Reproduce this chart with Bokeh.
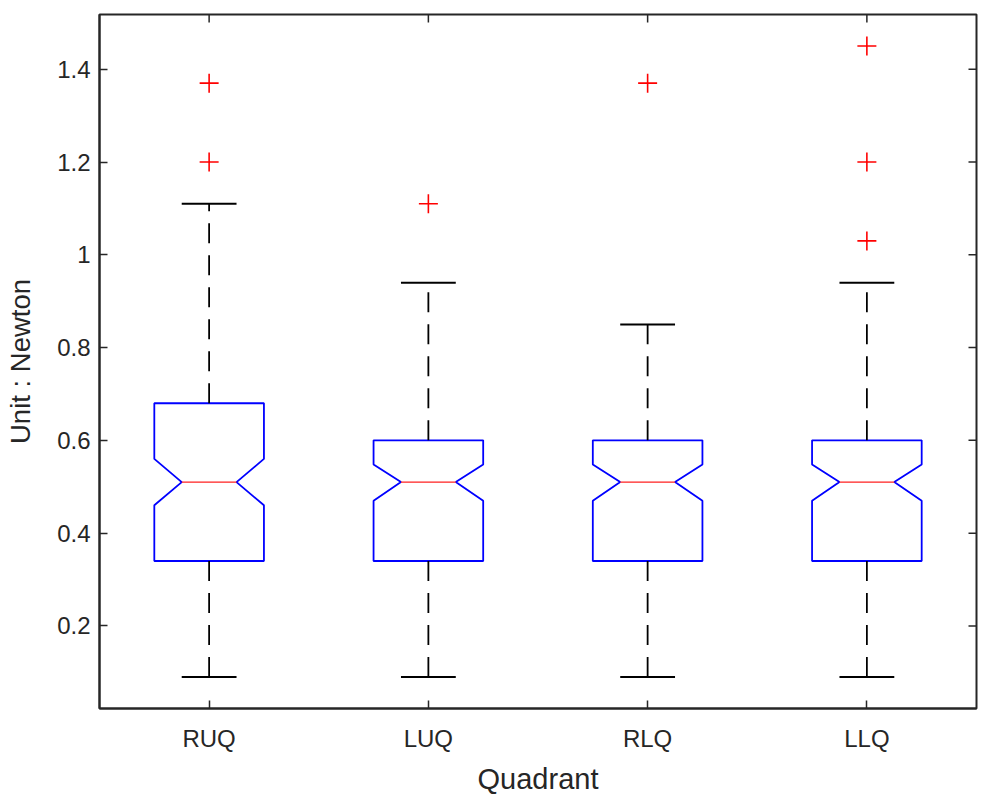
from bokeh.plotting import figure
from bokeh.models import Range1d, FixedTicker
from bokeh.embed import file_html
from bokeh.resources import INLINE

# ---- data ----
categories = ["RUQ", "LUQ", "RLQ", "LLQ"]
positions = [1, 2, 3, 4]
q1 = [0.34, 0.34, 0.34, 0.34]
median = [0.51, 0.51, 0.51, 0.51]
q3 = [0.68, 0.60, 0.60, 0.60]
notch_lo = [0.46, 0.47, 0.47, 0.47]
notch_hi = [0.56, 0.548, 0.548, 0.548]
whisker_lo = [0.09, 0.09, 0.09, 0.09]
whisker_hi = [1.11, 0.94, 0.85, 0.94]
outlier_pos = [1, 1, 2, 3, 4, 4, 4]
outlier_val = [1.37, 1.20, 1.11, 1.37, 1.45, 1.20, 1.03]
y_ticks = [0.2, 0.4, 0.6, 0.8, 1.0, 1.2, 1.4]
y_tick_labels = ["0.2", "0.4", "0.6", "0.8", "1", "1.2", "1.4"]
x_limits = (0.5, 4.5)
y_limits = (0.022, 1.518)

# ---- style ----
FONT = "Liberation Sans"
AX = "#262626"
BW = 0.25   # box half-width
NW = 0.125  # notch half-width
CW = 0.125  # cap half-width
FW, FH = 877, 694
TICK_PX = 8

p = figure(frame_width=FW, frame_height=FH,
           min_border_left=99, min_border_right=8,
           min_border_top=14, min_border_bottom=84,
           x_range=Range1d(*x_limits), y_range=Range1d(*y_limits),
           output_backend="svg", toolbar_location=None)
p.background_fill_color = "white"
p.border_fill_color = "white"
p.grid.visible = False
p.outline_line_color = AX
p.outline_line_width = 2

# boxes
xs, ys = [], []
for x, a, nl, m, nh, b in zip(positions, q1, notch_lo, median, notch_hi, q3):
    xs.append([x - BW, x + BW, x + BW, x + NW, x + BW, x + BW, x - BW, x - BW, x - NW, x - BW])
    ys.append([a, a, nl, m, nh, b, b, nh, m, nl])
p.patches(xs, ys, fill_color=None, line_color="#0000ff", line_width=1.8)

# medians
p.segment([x - NW for x in positions], median, [x + NW for x in positions], median,
          line_color="#ff2020", line_width=1.2)

# whiskers
p.segment(positions, q3, positions, whisker_hi, line_color="black", line_width=1.8,
          line_dash="20 12")
p.segment(positions, q1, positions, whisker_lo, line_color="black", line_width=1.8,
          line_dash="20 12")
# caps
p.segment([x - CW for x in positions], whisker_hi, [x + CW for x in positions], whisker_hi,
          line_color="black", line_width=2)
p.segment([x - CW for x in positions], whisker_lo, [x + CW for x in positions], whisker_lo,
          line_color="black", line_width=2)

# outliers
p.scatter(outlier_pos, outlier_val, marker="cross", size=19, line_color="#ff0000",
          line_width=1.6)

# inward ticks on the top and right edges of the box
ty = TICK_PX * (y_limits[1] - y_limits[0]) / FH
tx = TICK_PX * (x_limits[1] - x_limits[0]) / FW
p.segment(positions, [y_limits[1]] * len(positions), positions,
          [y_limits[1] - ty] * len(positions), line_color=AX, line_width=1.5)
p.segment([x_limits[1]] * len(y_ticks), y_ticks, [x_limits[1] - tx] * len(y_ticks),
          y_ticks, line_color=AX, line_width=1.5)

# axes
def style_axis(ax):
    ax.axis_line_color = AX
    ax.axis_line_width = 2
    ax.major_tick_line_color = AX
    ax.major_tick_line_width = 1.5
    ax.major_tick_in = TICK_PX
    ax.major_tick_out = 0
    ax.minor_tick_line_color = None
    ax.major_label_text_font = FONT
    ax.major_label_text_color = AX
    ax.axis_label_text_font = FONT
    ax.axis_label_text_font_style = "normal"
    ax.axis_label_text_color = AX

xa = p.xaxis[0]
xa.ticker = FixedTicker(ticks=positions)
xa.major_label_overrides = {pos: c for pos, c in zip(positions, categories)}
style_axis(xa)
xa.major_label_text_font_size = "24px"
xa.major_label_standoff = 16
xa.axis_label = "Quadrant"
xa.axis_label_text_font_size = "29px"
xa.axis_label_standoff = 8

ya = p.yaxis[0]
ya.ticker = FixedTicker(ticks=y_ticks)
ya.major_label_overrides = {t: l for t, l in zip(y_ticks, y_tick_labels)}
style_axis(ya)
ya.major_label_text_font_size = "24px"
ya.major_label_standoff = 9
ya.axis_label = "Unit : Newton"
ya.axis_label_text_font_size = "27.5px"
ya.axis_label_standoff = 18

open("out.html", "w").write(file_html(p, INLINE))
